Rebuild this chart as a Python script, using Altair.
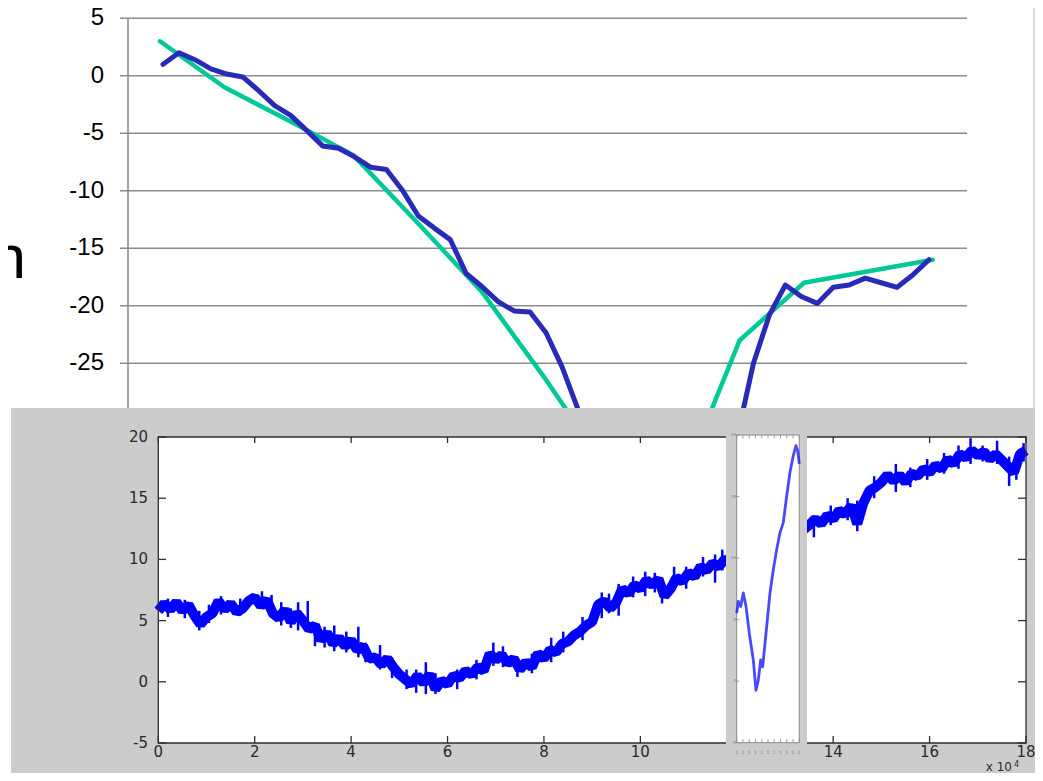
import altair as alt
import pandas as pd

# ---------------- data ----------------
TOP_TICKS = [5, 0, -5, -10, -15, -20, -25]
TOP_LABELS = ["5", "0", "-5", "-10", "-15", "-20", "-25"]

BLUE_TOP = [1.0, 2.0, 1.4, 0.6, 0.15, -0.1, -1.3, -2.6, -3.45, -4.75,
            -6.1, -6.3, -7.05, -7.95, -8.15, -9.95, -12.2, -13.25, -14.25, -17.2,
            -18.35, -19.65, -20.45, -20.55, -22.35, -25.3, -29.0, -33.0, -36.0, -38.5,
            -40.0, -40.5, -40.0, -38.5, -36.0, -33.5, -31.3, -25.0, -20.8, -18.2,
            -19.2, -19.8, -18.4, -18.2, -17.6, -18.0, -18.4, -17.3, -16.0]

TEAL_X = [-0.19, 3.85, 7.88, 11.92, 15.96, 19.99, 24.03, 28.06, 32.10, 36.14, 40.17, 44.21, 48.24]
TEAL_TOP = [3.0, -1.0, -3.9, -6.9, -12.8, -18.8, -26.5, -34.7, -36.8, -23.0, -18.0, -17.0, -16.0]

MAIN_STEP = 0.125
MAIN_Y = [5.8, 6.4, 5.9, 6.5, 5.8, 6.3, 5.4, 4.7, 5.3, 5.6,
          6.6, 5.9, 6.4, 5.7, 6.0, 6.6, 6.9, 6.2, 6.7, 5.6,
          5.2, 5.9, 4.9, 5.6, 5.0, 4.3, 4.6, 3.4, 4.0, 3.1,
          3.6, 2.9, 3.4, 2.6, 2.9, 1.9, 2.0, 1.4, 1.9, 1.2,
          0.6, 0.2, -0.2, 0.5, -0.1, 0.6, -0.6, 0.1, -0.2, 0.5,
          0.3, 0.9, 0.6, 1.2, 0.9, 2.3, 1.8, 2.2, 1.5, 1.9,
          1.0, 1.6, 1.2, 2.3, 1.9, 2.6, 2.4, 3.1, 3.3, 3.8,
          4.1, 4.6, 4.9, 6.3, 6.6, 6.0, 6.5, 7.6, 7.2, 7.9,
          7.6, 8.3, 7.9, 8.4, 7.0, 7.6, 8.5, 8.2, 8.9, 8.6,
          9.4, 9.1, 9.7, 9.4, 10.0, 9.8, 10.3, 10.5, 10.8, 11.0,
          11.3, 11.5, 11.8, 12.0, 12.2, 12.3, 12.5, 12.4, 12.8, 13.3,
          12.9, 13.6, 13.3, 14.0, 13.7, 14.4, 12.9, 14.6, 15.6, 15.9,
          16.3, 16.9, 16.4, 16.9, 16.3, 17.0, 16.8, 17.4, 17.1, 17.7,
          17.4, 18.2, 17.8, 18.6, 18.3, 18.9, 18.5, 18.8, 18.2, 18.6,
          18.1, 17.6, 17.1, 18.6, 18.9]

SPIKE_X = [0.2, 0.55, 0.85, 1.05, 1.3, 1.7, 2.15, 2.35, 2.55, 2.75, 2.9, 3.1, 3.25, 3.45,
           3.65, 3.9, 4.15, 4.3, 4.6, 4.85, 5.15, 5.35, 5.55, 5.75, 6.2, 6.6, 6.95, 7.15,
           7.45, 7.75, 8.15, 8.4, 8.8, 9.2, 9.35, 9.55, 9.85, 10.1, 10.3, 10.45, 10.7,
           10.95, 11.3, 11.55, 11.7, 13.6, 13.95, 14.3, 14.5, 14.85, 15.3, 15.6, 15.95,
           16.3, 16.6, 16.85, 17.1, 17.4, 17.65, 17.8, 17.95]
SPIKE_LO = [5.3, 5.2, 4.2, 4.8, 5.5, 5.4, 6.0, 5.7, 4.6, 4.4, 4.2, 4.5, 2.9, 2.8,
            2.5, 2.4, 2.0, 1.6, 1.0, 0.3, -0.6, -0.9, -1.0, -1.0, -0.6, 0.2, 1.3, 1.2,
            0.4, 0.7, 1.6, 2.4, 3.4, 5.2, 5.6, 5.4, 6.9, 7.0, 7.3, 6.4, 7.5,
            7.6, 8.6, 8.1, 9.1, 11.8, 12.8, 13.2, 12.3, 15.0, 15.5, 15.9, 16.5,
            17.0, 17.4, 17.8, 18.0, 17.8, 16.0, 16.5, 18.0]
SPIKE_HI = [6.8, 6.7, 5.8, 6.3, 7.0, 6.8, 7.4, 7.1, 6.5, 6.0, 6.5, 6.6, 4.8, 4.5,
            4.6, 4.1, 4.5, 3.2, 3.0, 2.0, 1.0, 1.0, 1.6, 0.7, 1.0, 1.8, 3.2, 2.9,
            2.0, 2.3, 3.6, 4.1, 5.3, 7.3, 7.2, 8.0, 8.6, 9.0, 8.9, 8.4, 9.4,
            9.4, 10.2, 10.4, 10.8, 13.6, 14.4, 15.0, 14.8, 16.8, 17.8, 17.5, 18.2,
            18.7, 19.3, 19.9, 19.3, 19.7, 18.4, 18.3, 19.5]

MAIN_XTICKS = [0, 2, 4, 6, 8, 10, 12, 14, 16, 18]
MAIN_XLABELS = ["0", "2", "4", "6", "8", "10", "12", "14", "16", "18"]
MAIN_YTICKS = [20, 15, 10, 5, 0, -5]
MAIN_YLABELS = ["20", "15", "10", "5", "0", "-5"]

INSET_X = [0.0, 0.26, 0.64, 1.05, 1.49, 2.01, 2.65, 3.08, 3.45, 3.83, 4.15, 4.79,
           5.32, 5.85, 6.39, 6.92, 7.44, 7.99, 8.51, 9.04, 9.47, 9.74, 10.0]
INSET_Y = [5.53, 6.48, 6.07, 7.17, 6.07, 3.90, 1.72, -0.74, 0.08, 1.72, 1.17, 4.44,
           7.17, 9.07, 10.70, 12.07, 12.88, 15.06, 16.97, 18.33, 19.14, 18.73, 17.65]
INSET_XTICKS = [0, 1, 2, 3, 4, 5, 6, 7, 8, 9, 10]

# ---------------- scales ----------------
def sc(domain, rng):
    return alt.Scale(domain=domain, range=rng, nice=False, zero=False)

TOP_XS = sc([0, 48], [155, 921])
TOP_YS = sc([-25, 5], [355.2, 10.3])
MAIN_XS = sc([0, 18], [150.3, 1018])
MAIN_YS = sc([-5, 20], [735, 429])
INS_XS = sc([0, 10], [728.7, 791.3])
INS_YS = sc([-5, 20], [734.7, 427])

one = pd.DataFrame({"a": [0]})
layers = []

# ---------------- top (spreadsheet) chart ----------------
top_ticks = pd.DataFrame({"v": TOP_TICKS, "lab": TOP_LABELS})
layers.append(alt.Chart(top_ticks).mark_rule(color="#8c8c8c", strokeWidth=1.6).encode(
    y=alt.Y("v:Q", scale=TOP_YS, axis=None), x=alt.value(112), x2=alt.value(959)))
layers.append(alt.Chart(one).mark_rule(color="#8c8c8c", strokeWidth=1.6).encode(
    x=alt.value(120), y=alt.value(10.3), y2=alt.value(400)))
layers.append(alt.Chart(top_ticks).mark_text(align="right", baseline="middle", fontSize=24,
                                             font="Liberation Sans", color="#000000").encode(
    y=alt.Y("v:Q", scale=TOP_YS, axis=None), x=alt.value(96), text="lab:N"))
layers.append(alt.Chart(pd.DataFrame({"t": ["n"]})).mark_text(
    align="right", baseline="alphabetic", fontSize=62, font="Liberation Sans", color="#000000").encode(
    x=alt.value(18), y=alt.value(270), text="t:N"))
layers.append(alt.Chart(one).mark_rule(color="#d9d9d9", strokeWidth=2).encode(
    x=alt.value(1026), y=alt.value(0), y2=alt.value(400)))

teal = pd.DataFrame({"x": TEAL_X, "y": TEAL_TOP})
layers.append(alt.Chart(teal).mark_line(color="#00c897", strokeWidth=4.5, strokeCap="round",
                                        strokeJoin="round").encode(
    x=alt.X("x:Q", scale=TOP_XS, axis=None), y=alt.Y("y:Q", scale=TOP_YS, axis=None)))
blue = pd.DataFrame({"x": list(range(len(BLUE_TOP))), "y": BLUE_TOP})
layers.append(alt.Chart(blue).mark_line(color="#2a2ab8", strokeWidth=5, strokeCap="round",
                                        strokeJoin="round").encode(
    x=alt.X("x:Q", scale=TOP_XS, axis=None), y=alt.Y("y:Q", scale=TOP_YS, axis=None)))

# ---------------- bottom (matlab) figure ----------------
layers.append(alt.Chart(one).mark_rect(color="#cccccc").encode(
    x=alt.value(3), x2=alt.value(1027), y=alt.value(400), y2=alt.value(765)))

box = pd.DataFrame({"x0": [0], "x1": [18], "y0": [-5], "y1": [20]})
layers.append(alt.Chart(box).mark_rect(color="#ffffff").encode(
    x=alt.X("x0:Q", scale=MAIN_XS, axis=None), x2="x1:Q",
    y=alt.Y("y0:Q", scale=MAIN_YS, axis=None), y2="y1:Q"))

main = pd.DataFrame({"x": [i * MAIN_STEP for i in range(len(MAIN_Y))], "y": MAIN_Y})
layers.append(alt.Chart(main).mark_line(color="#0000ff", strokeWidth=10, strokeJoin="bevel").encode(
    x=alt.X("x:Q", scale=MAIN_XS, axis=None), y=alt.Y("y:Q", scale=MAIN_YS, axis=None)))
spikes = pd.DataFrame({"x": SPIKE_X, "lo": SPIKE_LO, "hi": SPIKE_HI})
layers.append(alt.Chart(spikes).mark_rule(color="#0000ff", strokeWidth=2.5).encode(
    x=alt.X("x:Q", scale=MAIN_XS, axis=None),
    y=alt.Y("lo:Q", scale=MAIN_YS, axis=None), y2="hi:Q"))

layers.append(alt.Chart(box).mark_rect(fillOpacity=0, stroke="#2e2e2e", strokeWidth=1.3).encode(
    x=alt.X("x0:Q", scale=MAIN_XS, axis=None), x2="x1:Q",
    y=alt.Y("y0:Q", scale=MAIN_YS, axis=None), y2="y1:Q"))

xt = pd.DataFrame({"v": MAIN_XTICKS, "lab": MAIN_XLABELS})
yt = pd.DataFrame({"v": MAIN_YTICKS, "lab": MAIN_YLABELS})
for ya, yb in [(735, 728), (429, 435)]:
    layers.append(alt.Chart(xt).mark_rule(color="#2e2e2e", strokeWidth=1.3).encode(
        x=alt.X("v:Q", scale=MAIN_XS, axis=None), y=alt.value(ya), y2=alt.value(yb)))
for xa, xb in [(150.3, 158), (1018, 1010)]:
    layers.append(alt.Chart(yt).mark_rule(color="#2e2e2e", strokeWidth=1.3).encode(
        y=alt.Y("v:Q", scale=MAIN_YS, axis=None), x=alt.value(xa), x2=alt.value(xb)))
layers.append(alt.Chart(xt).mark_text(align="center", baseline="middle", fontSize=15,
                                      font="DejaVu Sans", color="#2a2a2a").encode(
    x=alt.X("v:Q", scale=MAIN_XS, axis=None), y=alt.value(744), text="lab:N"))
layers.append(alt.Chart(yt).mark_text(align="right", baseline="middle", fontSize=15,
                                      font="DejaVu Sans", color="#2a2a2a").encode(
    y=alt.Y("v:Q", scale=MAIN_YS, axis=None), x=alt.value(140), text="lab:N"))
layers.append(alt.Chart(pd.DataFrame({"t": ["x 10"]})).mark_text(
    align="right", baseline="alphabetic", fontSize=12, font="DejaVu Sans", color="#2a2a2a").encode(
    x=alt.value(1004), y=alt.value(763), text="t:N"))
layers.append(alt.Chart(pd.DataFrame({"t": ["4"]})).mark_text(
    align="left", baseline="alphabetic", fontSize=8, font="DejaVu Sans", color="#2a2a2a").encode(
    x=alt.value(1006), y=alt.value(759), text="t:N"))

# ---------------- inset ----------------
layers.append(alt.Chart(one).mark_rect(color="#cccccc").encode(
    x=alt.value(718), x2=alt.value(799), y=alt.value(400), y2=alt.value(765)))
ibox = pd.DataFrame({"x0": [0], "x1": [10], "y0": [-5], "y1": [20]})
layers.append(alt.Chart(ibox).mark_rect(color="#ffffff", stroke="#8a8a8a", strokeWidth=1).encode(
    x=alt.X("x0:Q", scale=INS_XS, axis=None), x2="x1:Q",
    y=alt.Y("y0:Q", scale=INS_YS, axis=None), y2="y1:Q"))
ixt = pd.DataFrame({"v": INSET_XTICKS, "lab": ["1"] * len(INSET_XTICKS)})
for ya, yb in [(734.7, 731), (427, 430.5)]:
    layers.append(alt.Chart(ixt).mark_rule(color="#8a8a8a", strokeWidth=0.8).encode(
        x=alt.X("v:Q", scale=INS_XS, axis=None), y=alt.value(ya), y2=alt.value(yb)))
layers.append(alt.Chart(yt).mark_rule(color="#8a8a8a", strokeWidth=0.8).encode(
    y=alt.Y("v:Q", scale=INS_YS, axis=None), x=alt.value(728.7), x2=alt.value(731.5)))
layers.append(alt.Chart(ixt).mark_text(align="center", baseline="middle", fontSize=4.5,
                                       font="DejaVu Sans", color="#777777").encode(
    x=alt.X("v:Q", scale=INS_XS, axis=None), y=alt.value(745), text="lab:N"))
layers.append(alt.Chart(yt).mark_text(align="right", baseline="middle", fontSize=4,
                                      font="DejaVu Sans", color="#777777").encode(
    y=alt.Y("v:Q", scale=INS_YS, axis=None), x=alt.value(728), text="lab:N"))
inset = pd.DataFrame({"x": INSET_X, "y": INSET_Y})
layers.append(alt.Chart(inset).mark_line(color="#1a1aff", strokeWidth=2.8, opacity=0.8,
                                         strokeJoin="round").encode(
    x=alt.X("x:Q", scale=INS_XS, axis=None), y=alt.Y("y:Q", scale=INS_YS, axis=None)))

chart = alt.layer(*layers).resolve_scale(x="independent", y="independent").properties(
    width=1027, height=765, padding=0, background="#ffffff",
    autosize=alt.AutoSizeParams(type="none")
).configure_view(strokeWidth=0)

chart.save("out.html", embed_options={"renderer": "svg", "actions": False})
